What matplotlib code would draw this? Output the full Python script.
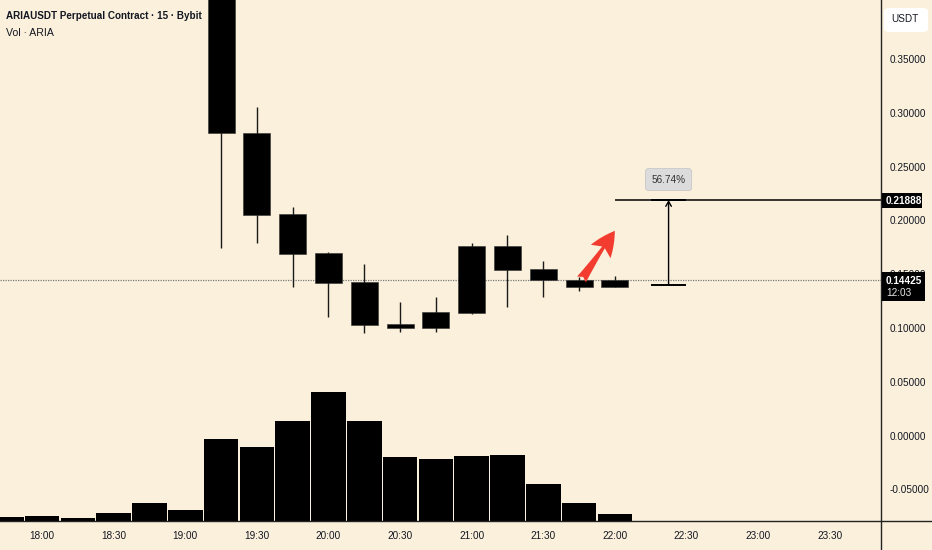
import matplotlib
matplotlib.use("Agg")
import matplotlib.pyplot as plt
from matplotlib.lines import Line2D
from matplotlib.patches import FancyBboxPatch

plt.rcParams['font.family'] = ['Liberation Sans', 'DejaVu Sans']

# ---------------- data ----------------
candle_times = ["19:15", "19:30", "19:45", "20:00", "20:15", "20:30",
                "20:45", "21:00", "21:15", "21:30", "21:45", "22:00"]
opens  = [0.5000, 0.2815, 0.2060, 0.1694, 0.1425, 0.1037, 0.1003, 0.1142, 0.1762, 0.1546, 0.1446, 0.1384]
highs  = [0.5500, 0.3051, 0.2122, 0.1704, 0.1595, 0.1244, 0.1291, 0.1793, 0.1864, 0.1626, 0.1477, 0.1483]
lows   = [0.1746, 0.1787, 0.1384, 0.1100, 0.0957, 0.0966, 0.0966, 0.1130, 0.1192, 0.1291, 0.1347, 0.1380]
closes = [0.2810, 0.2050, 0.1688, 0.1415, 0.1028, 0.1003, 0.1152, 0.1762, 0.1539, 0.1446, 0.1384, 0.14425]

vol_times = ["17:45", "18:00", "18:15", "18:30", "18:45", "19:00", "19:15", "19:30", "19:45",
             "20:00", "20:15", "20:30", "20:45", "21:00", "21:15", "21:30", "21:45", "22:00"]
volumes = [0.37, 0.50, 0.27, 0.77, 1.83, 1.13, 8.30, 7.50, 10.13,
           13.17, 10.13, 6.53, 6.27, 6.63, 6.73, 3.73, 1.83, 0.67]

x_tick_labels = ["18:00", "18:30", "19:00", "19:30", "20:00", "20:30",
                 "21:00", "21:30", "22:00", "22:30", "23:00", "23:30"]
y_ticks = [0.35, 0.30, 0.25, 0.20, 0.15, 0.10, 0.05, 0.00, -0.05]
y_tick_labels = ["0.35000", "0.30000", "0.25000", "0.20000", "0.15000",
                 "0.10000", "0.05000", "0.00000", "-0.05000"]

last_price = 0.14425
last_price_label = "0.14425"
countdown = "12:03"
target_price = 0.21888
target_label = "0.21888"
measure_base = 0.13965
measure_pct = "56.74%"
measure_start, measure_end = "22:15", "22:30"
target_line_start = "22:00"
arrow_tail = ("21:46", 0.1450)
arrow_head = ("22:00", 0.1903)

title = "ARIAUSDT Perpetual Contract · 15 · Bybit"
subtitle = "Vol · ARIA"


def tmin(s):
    h, m = s.split(":")
    return int(h) * 60 + int(m)


BG = "#faf0dc"
TXT = "#131722"
FS = 7.2

W, H = 932, 550
fig = plt.figure(figsize=(W / 100, H / 100), dpi=100, facecolor=BG)
ax_l, ax_r, ax_b = 0, 881, 521
ax = fig.add_axes([ax_l / W, (H - ax_b) / H, (ax_r - ax_l) / W, ax_b / H])
ax.set_xlim(1062.4, 1431.5)
ax.set_ylim(-0.0794, 0.4048)
for s in ax.spines.values():
    s.set_visible(False)

# volume on twin axis
ax2 = ax.twinx()
ax2.set_ylim(0, 13.17 * 521 / 129.5)
for s in ax2.spines.values():
    s.set_visible(False)
ax2.set_yticks([])
ax2.bar([tmin(t) for t in vol_times], volumes, width=14.5, color="black",
        edgecolor="none", align="center", zorder=2)
ax.set_zorder(ax2.get_zorder() + 1)
ax.patch.set_visible(False)
ax2.patch.set_visible(False)

# candles
cx = [tmin(t) for t in candle_times]
ax.vlines(cx, lows, highs, color="#1a1a1a", linewidth=1.0, zorder=3)
bottoms = [min(o, c) for o, c in zip(opens, closes)]
heights = [max(abs(c - o), 0.0015) for o, c in zip(opens, closes)]
ax.bar(cx, heights, bottom=bottoms, width=11.3, color="black",
       edgecolor="#333333", linewidth=0.4, zorder=4)

# last price dotted line
ax.axhline(last_price, color="#7a7a7a", linestyle=(0, (1, 1)), linewidth=0.9, zorder=2)

# target horizontal line
ax.hlines(target_price, tmin(target_line_start), 1431.5, color="black", linewidth=1.1, zorder=5)

# measure tool
m0, m1 = tmin(measure_start), tmin(measure_end)
mc = (m0 + m1) / 2
ax.hlines([target_price, measure_base], m0, m1, color="black", linewidth=1.4, zorder=5)
ax.annotate("", xy=(mc, target_price), xytext=(mc, measure_base),
            arrowprops=dict(arrowstyle="->,head_length=0.35,head_width=0.2",
                            color="black", linewidth=1.0, shrinkA=0, shrinkB=0), zorder=5)
ax.text(mc, 0.2379, measure_pct, ha="center", va="center", fontsize=FS,
        color="#333333", zorder=7,
        bbox=dict(boxstyle="round,pad=0.6,rounding_size=0.3", facecolor="#dcdcdc",
                  edgecolor="#c8c8c8", linewidth=0.6))

# red arrow
ax.annotate("", xy=(tmin(arrow_head[0]), arrow_head[1]),
            xytext=(tmin(arrow_tail[0]), arrow_tail[1]),
            arrowprops=dict(arrowstyle="fancy,head_length=0.95,head_width=0.9,tail_width=0.4",
                            mutation_scale=19, color="#f23c30", linewidth=0,
                            shrinkA=0, shrinkB=0), zorder=6)

# axes ticks
ax.set_xticks([tmin(t) for t in x_tick_labels])
ax.set_xticklabels(x_tick_labels)
ax.set_yticks(y_ticks)
ax.set_yticklabels(y_tick_labels)
ax.yaxis.tick_right()
ax.tick_params(axis="y", length=0, pad=6, labelcolor=TXT, labelsize=FS)
ax.tick_params(axis="x", length=0, pad=7.5, labelcolor=TXT, labelsize=FS)

# axis border lines (full width/height)
fig.add_artist(Line2D([0, 1], [(H - ax_b) / H] * 2, color="#222222", linewidth=1.0))
fig.add_artist(Line2D([ax_r / W] * 2, [0, 1], color="#222222", linewidth=1.0))


def fx(px):
    return px / W


def fy(py):
    return 1 - py / H


# price labels on axis
fig.patches.append(FancyBboxPatch((fx(882), fy(208)), (922 - 882) / W, 15 / H,
                                  boxstyle="square,pad=0", transform=fig.transFigure,
                                  facecolor="black", edgecolor="none", zorder=10))
fig.text(fx(886), fy(200.5), target_label, ha="left", va="center", color="white",
         fontsize=FS, fontweight="bold", zorder=11)

fig.patches.append(FancyBboxPatch((fx(882), fy(301)), (925 - 882) / W, 29 / H,
                                  boxstyle="square,pad=0", transform=fig.transFigure,
                                  facecolor="black", edgecolor="none", zorder=10))
fig.text(fx(886), fy(280.5), last_price_label, ha="left", va="center", color="white",
         fontsize=FS, fontweight="bold", zorder=11)
fig.text(fx(886), fy(293.5), countdown, ha="left", va="center", color="#e8e8e8",
         fontsize=FS, zorder=11)

# USDT box
fig.patches.append(FancyBboxPatch((fx(884), fy(32)), (928 - 884) / W, 24 / H,
                                  boxstyle="round,pad=0,rounding_size=0.006",
                                  transform=fig.transFigure,
                                  facecolor="white", edgecolor="none", zorder=10))
fig.text(fx(891), fy(19.5), "USDT", ha="left", va="center", color=TXT,
         fontsize=FS, zorder=11)

# titles
fig.text(fx(6), fy(16), title, ha="left", va="center", color=TXT, fontsize=7.1,
         fontweight="bold")
fig.text(fx(6), fy(33), subtitle, ha="left", va="center", color=TXT, fontsize=7.6)

fig.savefig("out.png", dpi=100, facecolor=BG)
